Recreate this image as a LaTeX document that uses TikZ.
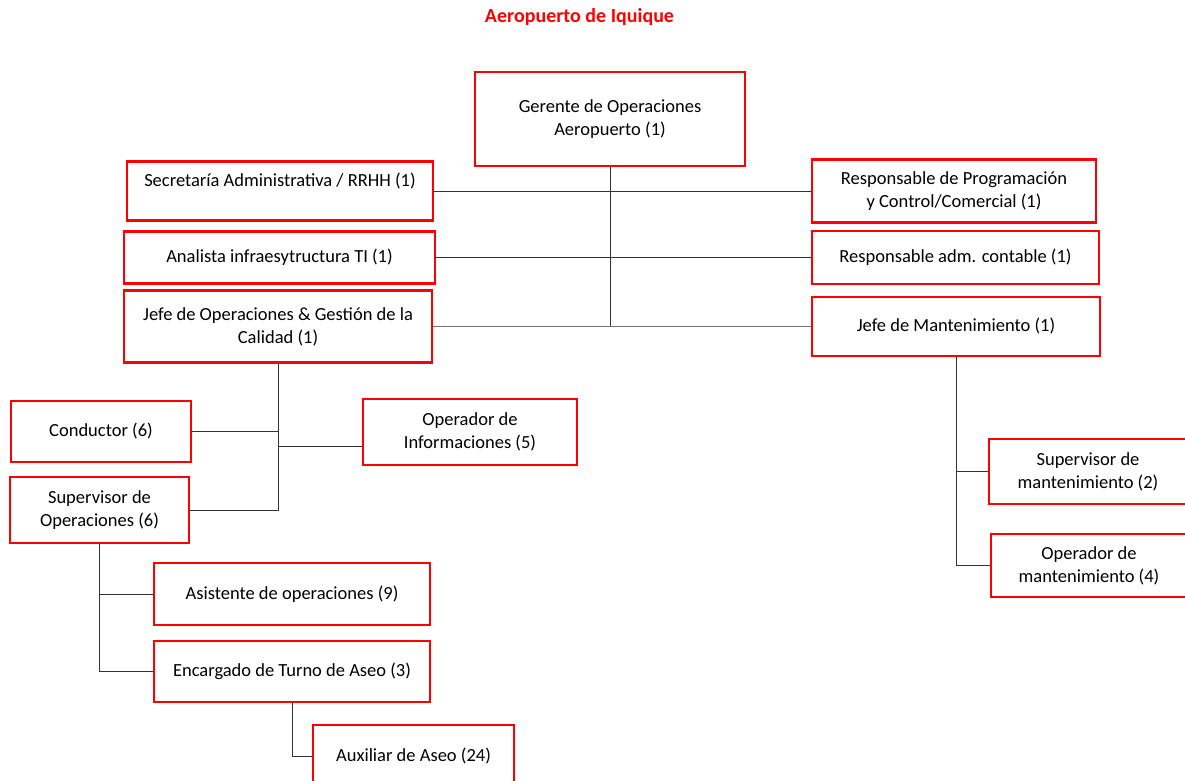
\documentclass[tikz,border=0pt]{standalone}
\usepackage{fontspec}
\setmainfont{Carlito}
\usepackage{tikz}
\usepackage{color}

\begin{document}
\begin{tikzpicture}[%
      x=1pt, y=-1pt,
      puesto/.style={draw=red, line width=2.6pt, align=center, inner sep=0pt,
        font=\fontsize{18.5}{23}\selectfont},
      linea/.style={color=black!80, line width=0.9pt},
      ]
      \useasboundingbox (0,0) rectangle (1185,781);

      \node at (579.5,17) {\fontsize{20}{24}\selectfont\bfseries\color{red} Aeropuerto de Iquique};

      \node [puesto, minimum width=270pt, minimum height=94pt] (gerente) at (610,119)
        {Gerente de Operaciones\\Aeropuerto (1)};
      \node [puesto, minimum width=306pt, minimum height=59pt] (secretaria) at (280,191)
        {Secretaría Administrativa / RRHH (1)\\\mbox{}};
      \node [puesto, minimum width=311pt, minimum height=52pt] (analista) at (279.5,257.5)
        {Analista infraesytructura TI (1)};
      \node [puesto, minimum width=308pt, minimum height=72pt] (jefeop) at (278,326.5)
        {Jefe de Operaciones \& Gestión de la\\Calidad (1)};
      \node [puesto, minimum width=284pt, minimum height=63pt] (respprog) at (954,191)
        {Responsable de Programación\\y Control/Comercial (1)};
      \node [puesto, minimum width=287pt, minimum height=53pt] (respadm) at (955.5,257.5)
        {Responsable adm. contable (1)};
      \node [puesto, minimum width=288pt, minimum height=59pt] (jefemant) at (956,326.5)
        {Jefe de Mantenimiento (1)};

      \node [puesto, minimum width=180pt, minimum height=61pt] (conductor) at (101,431.5)
        {Conductor (6)};
      \node [puesto, minimum width=214pt, minimum height=66pt] (opinfo) at (470,432)
        {Operador de\\Informaciones (5)};
      \node [puesto, minimum width=179pt, minimum height=66pt] (supop) at (99.5,510)
        {Supervisor de\\Operaciones (6)};
      \node [puesto, minimum width=276pt, minimum height=62pt] (asistente) at (292,594)
        {Asistente de operaciones (9)};
      \node [puesto, minimum width=276pt, minimum height=61pt] (encargado) at (292,671.5)
        {Encargado de Turno de Aseo (3)};
      \node [puesto, minimum width=201pt, minimum height=62pt] (auxiliar) at (413.5,756)
        {Auxiliar de Aseo (24)};

      \node [puesto, minimum width=198pt, minimum height=65pt] (supmant) at (1088,471.5)
        {Supervisor de\\mantenimiento (2)};
      \node [puesto, minimum width=196pt, minimum height=63pt] (opmant) at (1089,565.5)
        {Operador de\\mantenimiento (4)};

      \draw [linea] (gerente.south) -- (gerente.south |- jefeop.east);
      \draw [linea] (secretaria.east) -- (respprog.west);
      \draw [linea] (analista.east) -- (respadm.west);
      \draw [linea, color=black!55, line width=1.6pt] (jefeop.east) -- (jefemant.west);

      \draw [linea] (jefeop.south) |- (supop.east);
      \draw [linea] (conductor.east) -- (conductor.east -| jefeop.south);
      \draw [linea] ([yshift=-14pt]opinfo.west) -| (jefeop.south);

      \draw [linea] (supop.south) |- (encargado.west);
      \draw [linea] (asistente.west) -| (supop.south);
      \draw [linea] (encargado.south) |- (auxiliar.west);

      \draw [linea] (jefemant.south) |- (opmant.west);
      \draw [linea] (supmant.west) -| (jefemant.south);
\end{tikzpicture}
\end{document}
